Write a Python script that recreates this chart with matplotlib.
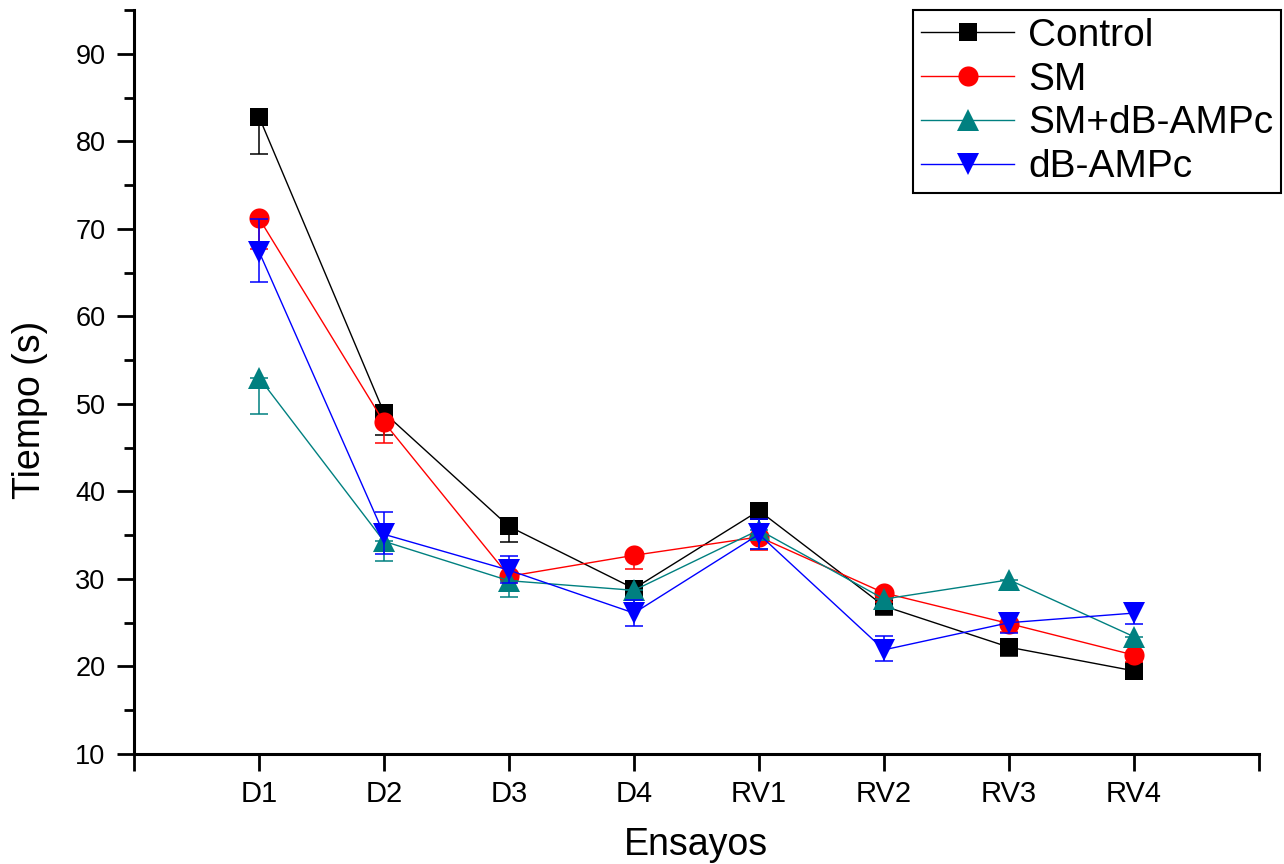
import matplotlib
matplotlib.use("Agg")
import matplotlib.pyplot as plt
import numpy as np

categories = ["D1", "D2", "D3", "D4", "RV1", "RV2", "RV3", "RV4"]

control = [82.8, 49.0, 36.0, 28.9, 37.8, 26.9, 22.2, 19.5]
control_lo = [4.2, 2.5, 1.8, 1.3, 1.5, 1.0, 1.0, 0.8]
control_hi = [0, 0, 0, 0, 0, 0, 0, 0]

sm = [71.2, 47.9, 30.3, 32.7, 34.8, 28.4, 24.9, 21.3]
sm_lo = [3.5, 2.4, 1.6, 1.6, 1.5, 1.0, 1.0, 0.8]
sm_hi = [0, 0, 0, 0, 0, 0, 0, 0]

sm_db = [53.0, 34.3, 29.8, 28.7, 35.6, 27.7, 29.9, 23.4]
sm_db_lo = [4.2, 2.3, 1.9, 1.4, 2.2, 0.8, 1.2, 1.0]
sm_db_hi = [0, 0, 0, 0, 0, 0, 0, 0]

db = [67.4, 35.1, 31.0, 26.1, 35.1, 21.9, 25.0, 26.1]
db_lo = [3.5, 2.2, 1.5, 1.5, 1.7, 1.3, 1.2, 1.2]
db_hi = [3.7, 2.6, 1.6, 1.5, 1.7, 1.6, 1.1, 1.2]

series = [
    ("Control", control, control_lo, control_hi, "black", "s", 13),
    ("SM", sm, sm_lo, sm_hi, "#ff0000", "o", 14.5),
    ("SM+dB-AMPc", sm_db, sm_db_lo, sm_db_hi, "#008080", "^", 16.5),
    ("dB-AMPc", db, db_lo, db_hi, "#0000ff", "v", 16.5),
]

plt.rcParams['font.family'] = ['Liberation Sans', 'DejaVu Sans']

fig = plt.figure(figsize=(12.84, 8.64), dpi=100)
ax = fig.add_axes([134/1284, 110/864, 1125/1284, 744/864])

x = np.arange(1, len(categories) + 1)
handles = []
for i, (name, y, lo, hi, col, mk, ms) in enumerate(series):
    z = 3 + i
    ax.errorbar(x, y, yerr=[lo, hi], fmt='none', ecolor=col, elinewidth=1.1,
                capsize=6.5, capthick=1.1, zorder=z)
    ln, = ax.plot(x, y, color=col, lw=1.0, marker=mk, markersize=ms,
                  markeredgewidth=0, label=name, zorder=z + 0.5)
    handles.append(ln)

ax.set_xlim(0, 9)
ax.set_ylim(10, 95)
ax.set_xticks(range(10))
ax.set_xticklabels([""] + categories + [""])
ax.set_yticks(range(10, 100, 10))
ax.set_yticks(range(15, 100, 10), minor=True)

for s in ["top", "right"]:
    ax.spines[s].set_visible(False)
for s in ["left", "bottom"]:
    ax.spines[s].set_linewidth(2.2)

ax.tick_params(axis='both', which='major', direction='out', length=12.5, width=2.0)
ax.tick_params(axis='y', which='minor', direction='out', length=7, width=2.0)
ax.tick_params(axis='y', which='major', labelsize=19.5, pad=8)
ax.tick_params(axis='x', which='major', labelsize=21, pad=6)

ax.set_ylabel("Tiempo (s)", fontsize=27)
ax.yaxis.set_label_coords(-0.076, 0.462)
ax.set_xlabel("Ensayos", fontsize=27)
ax.xaxis.set_label_coords(0.4996, -0.098)

leg = ax.legend(handles=handles, loc='upper right',
                bbox_to_anchor=(1281/1284, 854/864), bbox_transform=fig.transFigure,
                fontsize=28, frameon=True, fancybox=False, framealpha=1,
                edgecolor='black', handlelength=2.4, handletextpad=0.35,
                labelspacing=0.2, borderpad=0.2, borderaxespad=0)
leg.get_frame().set_linewidth(1.5)

fig.savefig("out.png", dpi=100)
